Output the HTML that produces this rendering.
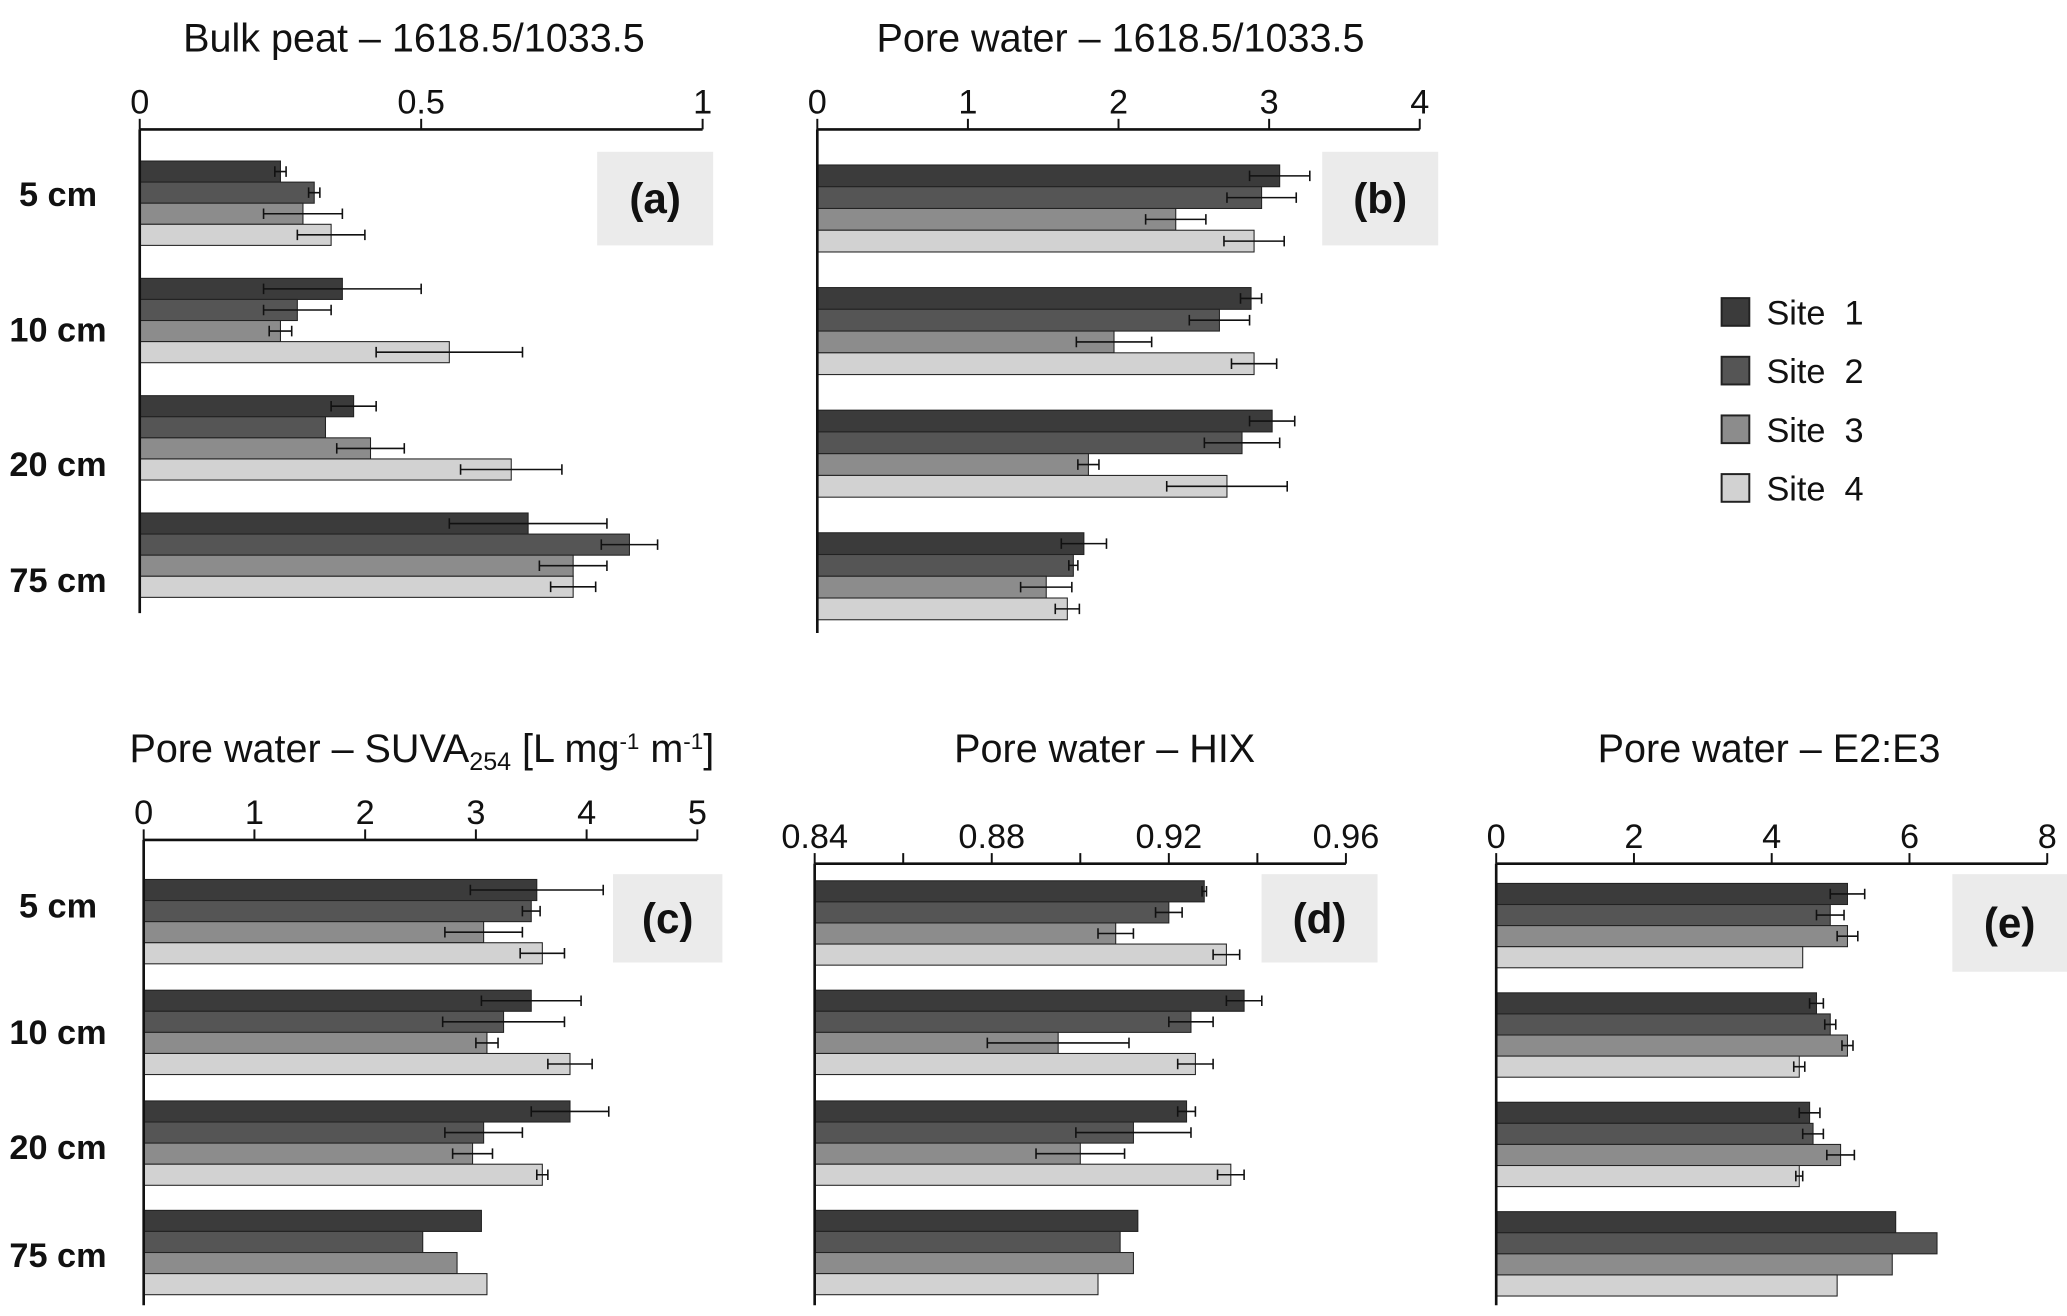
<!DOCTYPE html>
<html><head><meta charset="utf-8">
<style>
html,body{margin:0;padding:0;background:#fff;}
svg{display:block;font-family:"Liberation Sans",sans-serif;}
</style></head>
<body>
<svg id="chart" width="2067" height="1316" viewBox="0 0 1568 998" xmlns="http://www.w3.org/2000/svg"></svg>
<script>
const depths = ["5 cm","10 cm","20 cm","75 cm"];
const sites = ["Site 1","Site 2","Site 3","Site 4"];
const siteColors = ["#3b3b3b","#555555","#8c8c8c","#d2d2d2"];

const aVals = [[0.25,0.31,0.29,0.34],[0.36,0.28,0.25,0.55],[0.38,0.33,0.41,0.66],[0.69,0.87,0.77,0.77]];
const aErr  = [[0.01,0.01,0.07,0.06],[0.14,0.06,0.02,0.13],[0.04,0,0.06,0.09],[0.14,0.05,0.06,0.04]];
const aTicks = [0,0.5,1];
const aTickLabels = ["0","0.5","1"];

const bVals = [[3.07,2.95,2.38,2.9],[2.88,2.67,1.97,2.9],[3.02,2.82,1.8,2.72],[1.77,1.7,1.52,1.66]];
const bErr  = [[0.2,0.23,0.2,0.2],[0.07,0.2,0.25,0.15],[0.15,0.25,0.07,0.4],[0.15,0.03,0.17,0.08]];
const bTicks = [0,1,2,3,4];
const bTickLabels = ["0","1","2","3","4"];

const cVals = [[3.55,3.5,3.07,3.6],[3.5,3.25,3.1,3.85],[3.85,3.07,2.97,3.6],[3.05,2.52,2.83,3.1]];
const cErr  = [[0.6,0.08,0.35,0.2],[0.45,0.55,0.1,0.2],[0.35,0.35,0.18,0.05],[0,0,0,0]];
const cTicks = [0,1,2,3,4,5];
const cTickLabels = ["0","1","2","3","4","5"];

const dVals = [[0.928,0.92,0.908,0.933],[0.937,0.925,0.895,0.926],[0.924,0.912,0.9,0.934],[0.913,0.909,0.912,0.904]];
const dErr  = [[0.0005,0.003,0.004,0.003],[0.004,0.005,0.016,0.004],[0.002,0.013,0.01,0.003],[0,0,0,0]];
const dTicks = [0.84,0.86,0.88,0.90,0.92,0.94,0.96];
const dTickLabels = ["0.84","","0.88","","0.92","","0.96"];

const eVals = [[5.1,4.85,5.1,4.45],[4.65,4.85,5.1,4.4],[4.55,4.6,5.0,4.4],[5.8,6.4,5.75,4.95]];
const eErr  = [[0.25,0.2,0.15,0],[0.1,0.08,0.08,0.08],[0.15,0.15,0.2,0.05],[0,0,0,0]];
const eTicks = [0,2,4,6,8];
const eTickLabels = ["0","2","4","6","8"];

const svg = document.getElementById('chart');
const NS = "http://www.w3.org/2000/svg";
function el(tag, attrs, parent){
  const e = document.createElementNS(NS, tag);
  for (const k in attrs) e.setAttribute(k, attrs[k]);
  (parent||svg).appendChild(e);
  return e;
}

function panel(cfg){
  const g = el('g', {});
  
  
  const x = v => cfg.x0 + (v - cfg.min) / (cfg.max - cfg.min) * (cfg.x1 - cfg.x0);
  const bx = el('rect', {x:cfg.box[0], y:cfg.box[1], width:cfg.box[2], height:cfg.box[3], fill:'#ebebeb'}, g);
  
  
  const bt = el('text', {x:cfg.box[0]+cfg.box[2]/2, y:cfg.box[1]+cfg.box[3]/2+11, 'text-anchor':'middle', 'font-size':32, 'font-weight':'bold', fill:'#111'}, g);
  bt.textContent = '(' + cfg.id + ')';
  
  
  const t = el('text', {x:cfg.titleX, y:cfg.titleY, 'text-anchor':'middle', 'font-size':cfg.titleSize||30, fill:'#111'}, g);
  t.innerHTML = cfg.title;
  
  
  cfg.vals.forEach((grp, gi) => {
    const gy = cfg.groupY[gi];
    grp.forEach((v, si) => {
      const y = gy + si * cfg.bh;
      const r = el('rect', {x:x(cfg.min), y:y, width:Math.max(0, x(v) - x(cfg.min)), height:cfg.bh, fill:siteColors[si], stroke:'#222', 'stroke-width':0.8}, g);
      
      
      const er = cfg.err[gi][si];
      if (er > 0) {
        const cy = y + cfg.bh/2;
        const eb = el('path', {d:`M${x(v-er)},${cy}H${x(v+er)}M${x(v-er)},${cy-4}V${cy+4}M${x(v+er)},${cy-4}V${cy+4}`, stroke:'#111', 'stroke-width':1.2, fill:'none'}, g);
        
        
      }
    });
    if (cfg.labelY) {
      const dl = el('text', {x:44, y:cfg.labelY[gi] + 9, 'text-anchor':'middle', 'font-size':26, 'font-weight':'bold', fill:'#111'}, g);
      dl.textContent = depths[gi];
      
      
    }
  });
  const ax = el('line', {x1:cfg.x0, y1:cfg.axisY, x2:cfg.x1, y2:cfg.axisY, stroke:'#111', 'stroke-width':2}, g);
  
  
  const ay = el('line', {x1:cfg.x0, y1:cfg.axisY, x2:cfg.x0, y2:cfg.axisBottom, stroke:'#111', 'stroke-width':2}, g);
  
  
  cfg.ticks.forEach((tv, i) => {
    const tk = el('line', {x1:x(tv), y1:cfg.axisY, x2:x(tv), y2:cfg.axisY-8, stroke:'#111', 'stroke-width':1.5}, g);
    
    
    if (cfg.tickLabels[i]) {
      const tl = el('text', {x:x(tv), y:cfg.axisY-12, 'text-anchor':'middle', 'font-size':26, fill:'#111'}, g);
      tl.textContent = cfg.tickLabels[i];
      
      
    }
  });
}

panel({id:'a', x0:106, x1:533, min:0, max:1, axisY:98, axisBottom:465, bh:16, groupY:[122,211,300,389],
  vals:aVals, err:aErr, ticks:aTicks, tickLabels:aTickLabels, labelY:[147,250,352,440], box:[453,115,88,71],
  title:'Bulk peat – 1618.5/1033.5', titleX:314, titleY:39});
panel({id:'b', x0:620, x1:1077, min:0, max:4, axisY:98, axisBottom:480, bh:16.5, groupY:[125,218,311,404],
  vals:bVals, err:bErr, ticks:bTicks, tickLabels:bTickLabels, box:[1003,115,88,71],
  title:'Pore water – 1618.5/1033.5', titleX:850, titleY:39});
panel({id:'c', x0:109, x1:529, min:0, max:5, axisY:637, axisBottom:990, bh:16, groupY:[667,751,835,918],
  vals:cVals, err:cErr, ticks:cTicks, tickLabels:cTickLabels, labelY:[687,783,870,952], box:[465,663,83,67],
  title:'Pore water – SUVA<tspan font-size="19" dy="6">254</tspan><tspan dy="-6"> [L mg</tspan><tspan font-size="17" dy="-10">-1</tspan><tspan dy="10"> m</tspan><tspan font-size="17" dy="-10">-1</tspan><tspan dy="10">]</tspan>', titleX:320, titleY:578});
panel({id:'d', x0:618, x1:1021, min:0.84, max:0.96, axisY:655, axisBottom:990, bh:16, groupY:[668,751,835,918],
  vals:dVals, err:dErr, ticks:dTicks, tickLabels:dTickLabels, box:[957,663,88,67],
  title:'Pore water – HIX', titleX:838, titleY:578});
panel({id:'e', x0:1135, x1:1553, min:0, max:8, axisY:655, axisBottom:990, bh:16, groupY:[670,753,836,919],
  vals:eVals, err:eErr, ticks:eTicks, tickLabels:eTickLabels, box:[1481,663,87,74],
  title:'Pore water – E2:E3', titleX:1342, titleY:578});

const lg = el('g', {});


sites.forEach((s, i) => {
  const y = 226 + i * 44.5;
  const sq = el('rect', {x:1306, y:y, width:21, height:21, fill:siteColors[i], stroke:'#222', 'stroke-width':1.5}, lg);
  
  
  const tx = el('text', {x:1340, y:y+20, 'font-size':26, fill:'#111'}, lg);
  tx.textContent = s.replace(' ', '\u00a0 ');
  
  
});
</script>
</body></html>
